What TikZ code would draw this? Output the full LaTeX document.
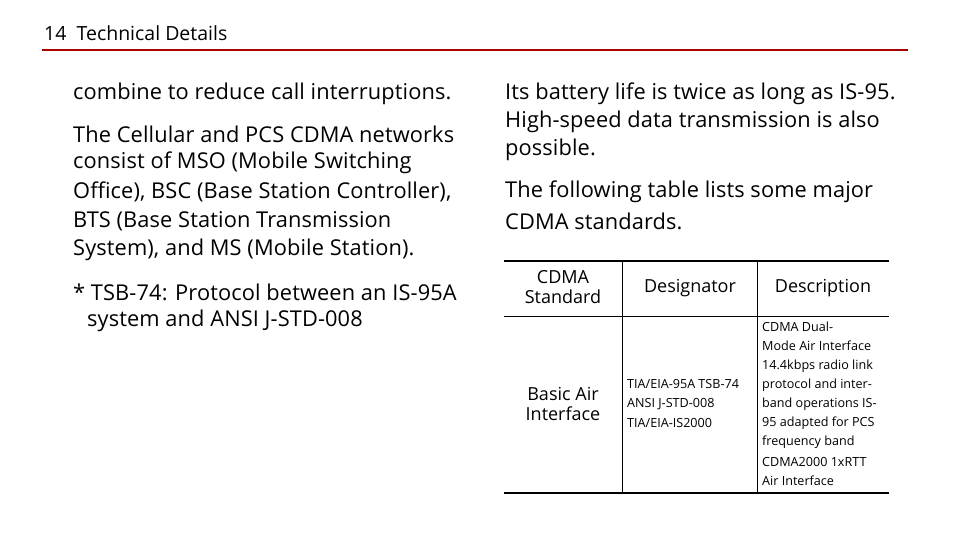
\documentclass[tikz,border=0pt]{standalone}
\usepackage{fontspec}
\setmainfont{Open Sans}
\begin{document}
\begin{tikzpicture}[x=1pt,y=-1pt,
  body/.style={anchor=west,inner sep=0pt,font=\fontsize{21.8}{29}\selectfont\addfontfeatures{LetterSpace=0.5}},
  hd/.style={inner sep=0pt,align=center,font=\fontsize{18}{20}\selectfont},
  sm/.style={anchor=west,inner sep=0pt,font=\fontsize{12.6}{19.3}\selectfont},
  thin/.style={line width=0.8pt},
  thick/.style={line width=2pt}]
\useasboundingbox (0,0) rectangle (954,546);
\node[anchor=west,inner sep=0pt,font=\fontsize{19.5}{20}\selectfont] (h) at (44,33) {14\ \ Technical Details};
\coordinate (r1) at (42,50); \coordinate (r2) at (908,50);
\draw[line width=1.2pt,red!65!black] (r1) -- (r2);
\node[body] (l1) at (73,94) {combine to reduce call interruptions.};
\node[body] (l2) at (73,134) {The Cellular and PCS CDMA networks};
\node[body] (l3) at (73,163) {consist of MSO (Mobile Switching};
\node[body] (l4) at (73,192) {Office), BSC (Base Station Controller),};
\node[body] (l5) at (73,221) {BTS (Base Station Transmission};
\node[body] (l6) at (73,250) {System), and MS (Mobile Station).};
\node[body] (l7) at (73,292) {* TSB-74: Protocol between an IS-95A};
\node[body] (l8) at (87,321) {system and ANSI J-STD-008};
\node[body] (m1) at (505,94) {Its battery life is twice as long as IS-95.};
\node[body] (m2) at (505,122) {High-speed data transmission is also};
\node[body] (m3) at (505,150) {possible.};
\node[body] (m4) at (505,192) {The following table lists some major};
\node[body] (m5) at (505,221) {CDMA standards.};
% table
\coordinate (t1) at (504,261); \coordinate (t2) at (889,261);
\coordinate (s1) at (504,316); \coordinate (s2) at (889,316);
\coordinate (b1) at (504,493); \coordinate (b2) at (889,493);
\coordinate (v1a) at (622,261); \coordinate (v1b) at (622,493);
\coordinate (v2a) at (757,261); \coordinate (v2b) at (757,493);
\draw[thick] (t1) -- (t2);
\draw[thin] (s1) -- (s2);
\draw[thick] (b1) -- (b2);
\draw[thin] (v1a) -- (v1b);
\draw[thin] (v2a) -- (v2b);
\node[hd] (c1) at (563,287) {CDMA\\Standard};
\node[hd] (c2) at (690,288) {Designator};
\node[hd] (c3) at (823,288) {Description};
\node[hd] (c4) at (563,404) {Basic Air\\Interface};
\node[sm] (d1) at (627,384) {TIA/EIA-95A TSB-74};
\node[sm] (d2) at (627,404) {ANSI J-STD-008};
\node[sm] (d3) at (627,423) {TIA/EIA-IS2000};
\node[sm] (e1) at (762,327) {CDMA Dual-};
\node[sm] (e2) at (762,346) {Mode Air Interface};
\node[sm] (e3) at (762,366) {14.4kbps radio link};
\node[sm] (e4) at (762,385) {protocol and inter-};
\node[sm] (e5) at (762,404) {band operations IS-};
\node[sm] (e6) at (762,423) {95 adapted for PCS};
\node[sm] (e7) at (762,442) {frequency band};
\node[sm] (e8) at (762,462) {CDMA2000 1xRTT};
\node[sm] (e9) at (762,481) {Air Interface};
\end{tikzpicture}
\end{document}
